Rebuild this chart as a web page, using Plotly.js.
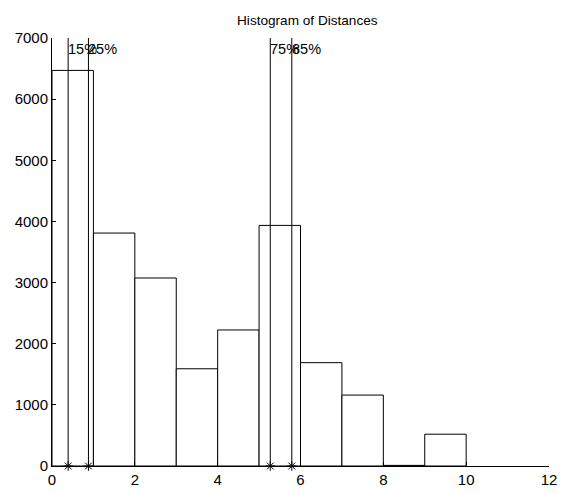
<!DOCTYPE html>
<html><head><meta charset="utf-8">
<script src="https://cdn.plot.ly/plotly-3.0.1.min.js"></script>
<style>html,body{margin:0;padding:0;background:#fff}#chart{width:567px;height:494px}</style>
</head><body><div id="chart"></div>
<script>
const binCenters = [0.5, 1.5, 2.5, 3.5, 4.5, 5.5, 6.5, 7.5, 8.5, 9.5];
const counts = [6470, 3810, 3075, 1590, 2225, 3935, 1690, 1160, 10, 520];
const pctValues = [0.39, 0.88, 5.27, 5.79];
const pctLabels = ['15%', '25%', '75%', '85%'];
const yTop = 7000;

const traces = [{
  type: 'bar', x: binCenters, y: counts, width: 1,
  marker: {color: '#ffffff', line: {color: '#000000', width: 1}},
  hoverinfo: 'skip'
}];
pctValues.forEach(p => {
  traces.push({type: 'scatter', mode: 'lines', x: [p, p], y: [0, yTop],
    line: {color: '#000000', width: 1}, hoverinfo: 'skip'});
});
traces.push({type: 'scatter', mode: 'markers', x: pctValues, y: pctValues.map(() => 0),
  marker: {symbol: 'asterisk-open', size: 8, color: '#000', line: {color: '#000', width: 1}},
  cliponaxis: false, hoverinfo: 'skip'});

const annotations = pctValues.map((p, i) => ({
  x: p, y: yTop, xref: 'x', yref: 'y', text: pctLabels[i], showarrow: false,
  xanchor: 'left', yanchor: 'top', xshift: -2, yshift: -1,
  font: {family: 'Liberation Sans, Arial, sans-serif', size: 14.5, color: '#000'}
}));

const axisFont = {family: 'Liberation Sans, Arial, sans-serif', size: 15, color: '#000'};
const layout = {
  width: 567, height: 494,
  margin: {l: 52, r: 18, t: 38, b: 28},
  paper_bgcolor: '#fff', plot_bgcolor: '#fff',
  showlegend: false, bargap: 0,
  title: {text: 'Histogram of Distances', x: 0.542, xanchor: 'center', y: 0.96, yanchor: 'middle',
    font: {family: 'Liberation Sans, Arial, sans-serif', size: 13.6, color: '#000'}},
  xaxis: {range: [0, 12], dtick: 2, tick0: 0, showgrid: false, zeroline: false,
    showline: true, linecolor: '#000', linewidth: 1, ticks: 'inside', ticklen: 4, tickcolor: '#000',
    tickfont: axisFont, fixedrange: true},
  yaxis: {range: [0, 7000], dtick: 1000, tick0: 0, showgrid: false, zeroline: false,
    showline: true, linecolor: '#000', linewidth: 1, ticks: 'inside', ticklen: 4, tickcolor: '#000',
    tickfont: axisFont, fixedrange: true},
  annotations: annotations
};
Plotly.newPlot('chart', traces, layout, {displayModeBar: false, staticPlot: true});
</script></body></html>
